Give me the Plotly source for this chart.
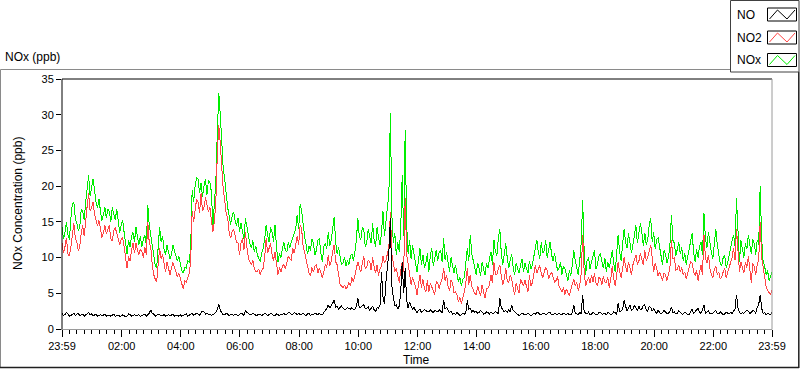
import pandas as pd
import plotly.graph_objects as go

# ---------------- data ----------------
# readings on the 6-minute marks (23:59 -> 23:59, 241 values)
nox_6min = [
    14.3, 13.5, 13.2, 15.5, 17.8, 14.8, 14.2, 16.5, 17.8, 21.5,
    20.0, 19.5, 17.0, 16.5, 16.0, 15.5, 16.5, 17.0, 15.2, 14.8,
    14.5, 13.5, 10.5, 11.5, 13.5, 14.3, 11.8, 11.5, 13.2, 17.4,
    13.0, 10.2, 8.5, 14.3, 13.0, 10.4, 10.8, 10.4, 11.0, 9.5,
    9.0, 7.8, 8.5, 9.3, 19.5, 20.0, 21.0, 20.5, 20.0, 18.8,
    20.5, 14.5, 20.6, 33.0, 26.0, 21.0, 17.0, 14.6, 16.4, 14.5,
    13.6, 13.8, 15.5, 13.0, 11.3, 10.8, 10.4, 9.4, 11.3, 14.6,
    12.2, 13.6, 14.6, 9.4, 10.0, 12.2, 10.8, 11.3, 12.7, 14.0,
    14.0, 16.5, 13.0, 10.5, 11.0, 12.0, 11.0, 12.7, 9.4, 12.0,
    13.6, 12.5, 15.7, 10.5, 9.8, 9.2, 8.8, 9.0, 10.5, 10.8,
    15.5, 12.5, 14.0, 12.0, 13.0, 14.8, 11.5, 12.8, 13.5, 13.0,
    17.0, 30.2, 12.0, 10.3, 10.8, 21.5, 27.9, 10.5, 9.8, 10.5,
    8.0, 11.3, 10.4, 9.2, 8.0, 11.3, 10.0, 9.5, 11.0, 12.7,
    10.8, 8.0, 9.0, 9.0, 6.6, 6.0, 7.2, 11.3, 13.2, 9.5,
    7.6, 8.5, 9.4, 7.6, 8.5, 10.8, 12.5, 10.3, 14.0, 9.0,
    12.0, 8.5, 10.5, 7.6, 8.4, 9.0, 8.0, 8.5, 9.5, 9.0,
    11.3, 10.8, 12.2, 11.0, 10.0, 12.2, 9.5, 9.2, 8.5, 7.6,
    8.5, 6.8, 7.5, 11.0, 8.5, 9.5, 18.0, 7.6, 10.0, 9.4,
    11.0, 9.0, 10.6, 8.5, 8.0, 8.5, 11.0, 8.0, 13.2, 9.5,
    14.0, 11.3, 12.0, 11.8, 14.5, 13.2, 13.6, 13.5, 12.5, 15.5,
    13.5, 12.5, 11.5, 9.0, 10.5, 10.0, 16.0, 12.0, 11.0, 10.5,
    9.5, 9.0, 10.8, 13.4, 9.4, 10.0, 12.2, 16.2, 11.3, 12.0,
    9.8, 14.0, 10.4, 8.8, 10.4, 9.2, 11.0, 13.2, 18.3, 9.4,
    11.0, 12.0, 13.2, 10.5, 12.0, 12.5, 20.0, 9.4, 7.6, 6.8,
    8.0,
]
# readings 3 minutes after each 6-minute mark (240 values)
nox_3min = [
    12.6, 15.0, 12.5, 17.5, 15.5, 13.8, 16.8, 15.2, 19.5, 18.6,
    21.0, 17.8, 18.2, 15.2, 17.0, 16.8, 15.0, 16.0, 16.8, 13.5,
    15.2, 11.8, 12.5, 13.0, 12.2, 12.8, 13.0, 12.5, 11.8, 14.5,
    11.5, 9.0, 11.0, 12.2, 11.2, 11.8, 9.8, 11.8, 10.0, 10.2,
    8.2, 8.6, 9.6, 11.5, 17.8, 21.2, 19.0, 18.5, 21.0, 20.8,
    19.2, 17.5, 27.5, 30.0, 22.5, 18.5, 15.8, 15.8, 15.2, 15.6,
    14.8, 12.6, 14.2, 12.0, 12.4, 11.6, 9.8, 10.6, 12.5, 13.2,
    14.2, 12.2, 11.5, 10.6, 11.2, 11.0, 12.2, 12.2, 13.4, 16.0,
    17.5, 14.2, 11.8, 11.6, 12.6, 10.4, 12.4, 10.6, 11.6, 11.2,
    11.6, 14.0, 12.2, 11.4, 9.0, 10.0, 9.6, 10.2, 9.6, 12.4,
    13.0, 14.2, 11.5, 14.0, 12.0, 12.5, 14.2, 11.8, 16.5, 14.8,
    19.0, 16.0, 13.5, 12.2, 14.0, 13.0, 14.5, 12.5, 11.8, 9.5,
    9.6, 9.0, 8.6, 10.6, 10.2, 8.8, 11.0, 10.8, 9.4, 9.6,
    9.2, 10.0, 7.8, 7.6, 7.2, 7.0, 9.2, 9.5, 10.6, 8.4,
    9.2, 7.4, 8.4, 9.2, 9.8, 9.0, 10.8, 12.8, 10.6, 10.4,
    10.0, 9.6, 8.6, 9.2, 7.8, 9.8, 9.2, 7.8, 8.4, 10.0,
    12.5, 9.8, 10.6, 12.4, 11.0, 10.4, 10.6, 8.2, 9.4, 8.8,
    7.6, 8.2, 9.0, 9.6, 7.6, 12.0, 11.0, 9.6, 8.4, 10.4,
    8.4, 10.2, 9.4, 10.0, 9.4, 9.8, 9.2, 10.6, 10.8, 11.8,
    12.2, 13.4, 10.6, 13.2, 12.0, 14.8, 11.6, 11.8, 14.6, 12.2,
    11.2, 12.8, 10.2, 11.0, 9.2, 11.8, 12.4, 10.2, 12.2, 11.4,
    10.6, 10.2, 12.2, 10.8, 11.2, 11.6, 10.4, 12.8, 13.6, 10.8,
    11.6, 11.8, 9.2, 10.0, 8.6, 10.4, 12.4, 11.6, 12.5, 12.4,
    10.0, 11.2, 11.6, 12.6, 10.4, 11.8, 12.8, 8.8, 8.2, 7.4,
]

no2_6min = [
    12.0, 11.5, 10.5, 11.5, 14.8, 12.2, 11.5, 14.5, 15.8, 19.0,
    17.0, 16.0, 14.5, 14.0, 13.5, 13.3, 14.5, 12.3, 14.2, 12.7,
    12.5, 11.5, 8.5, 9.5, 12.0, 12.0, 10.4, 10.8, 11.5, 15.0,
    11.5, 7.6, 6.6, 11.3, 10.5, 8.0, 8.3, 8.5, 8.7, 7.3,
    7.0, 5.6, 6.5, 7.8, 16.5, 17.0, 17.8, 19.0, 17.0, 17.4,
    17.0, 13.6, 17.8, 28.5, 22.0, 18.0, 15.5, 12.7, 14.0, 12.2,
    10.4, 12.7, 13.6, 9.9, 9.0, 8.5, 8.0, 7.6, 8.5, 12.7,
    11.3, 10.4, 10.8, 7.6, 8.0, 9.0, 9.4, 9.8, 11.3, 11.8,
    11.8, 14.0, 10.8, 8.5, 7.5, 8.0, 9.0, 8.5, 7.1, 9.0,
    10.4, 9.5, 11.8, 9.0, 6.3, 5.8, 5.6, 6.5, 7.2, 7.6,
    9.4, 8.0, 10.2, 8.6, 9.5, 10.0, 7.8, 7.5, 8.8, 9.2,
    10.5, 16.4, 9.2, 8.5, 6.5, 9.4, 18.3, 9.0, 6.2, 6.6,
    4.8, 7.6, 7.0, 5.2, 5.2, 6.0, 4.8, 6.5, 6.5, 8.5,
    7.6, 5.3, 6.5, 5.2, 3.8, 3.5, 5.2, 8.5, 7.6, 5.5,
    4.8, 5.2, 6.2, 4.3, 5.7, 7.6, 9.4, 7.6, 9.0, 6.2,
    8.5, 6.5, 7.0, 4.8, 5.5, 7.0, 6.0, 5.8, 7.5, 6.5,
    9.0, 8.5, 7.8, 8.0, 8.2, 7.6, 7.2, 6.8, 6.0, 5.2,
    4.8, 5.2, 5.5, 7.0, 6.5, 6.0, 13.2, 6.0, 7.2, 7.6,
    7.8, 6.0, 7.0, 7.4, 6.5, 5.8, 8.8, 6.0, 9.4, 7.2,
    10.0, 8.0, 8.5, 9.0, 10.4, 9.5, 9.8, 11.0, 10.0, 11.8,
    8.0, 8.5, 8.0, 6.8, 7.6, 7.6, 12.5, 10.0, 8.4, 8.0,
    7.6, 7.0, 8.5, 9.2, 7.5, 6.8, 9.0, 13.2, 9.2, 8.5,
    7.2, 8.8, 8.0, 7.3, 8.5, 8.0, 9.4, 11.3, 14.0, 8.0,
    8.5, 9.4, 10.2, 6.5, 8.8, 9.0, 15.0, 8.5, 6.0, 5.0,
    5.5,
]
no2_3min = [
    10.6, 12.8, 10.2, 13.6, 12.8, 11.0, 13.5, 13.0, 17.2, 16.5,
    17.8, 15.0, 15.2, 12.8, 14.5, 14.0, 12.6, 13.8, 13.4, 11.8,
    12.8, 9.8, 10.2, 11.0, 10.6, 11.0, 11.2, 10.0, 10.4, 12.0,
    9.0, 7.0, 9.0, 9.8, 9.2, 9.4, 7.6, 9.3, 7.8, 7.8,
    6.0, 6.8, 7.2, 9.5, 15.0, 18.2, 16.2, 16.6, 18.4, 16.4,
    15.5, 15.0, 24.5, 26.0, 19.5, 16.2, 13.6, 13.6, 12.8, 12.0,
    12.0, 11.0, 11.5, 9.4, 9.6, 8.0, 8.4, 8.2, 10.0, 10.6,
    12.0, 9.6, 9.0, 8.6, 8.8, 8.4, 10.2, 9.6, 10.6, 13.0,
    14.6, 11.6, 9.6, 7.8, 8.6, 8.8, 7.8, 8.0, 8.2, 8.6,
    8.8, 10.8, 9.4, 7.6, 6.0, 6.2, 5.9, 6.0, 6.6, 8.8,
    8.6, 9.2, 8.4, 9.6, 8.2, 8.8, 9.0, 8.4, 10.2, 9.6,
    11.5, 10.5, 8.0, 7.5, 8.2, 8.0, 10.5, 7.4, 7.2, 6.0,
    6.2, 5.8, 5.6, 6.8, 6.4, 5.4, 6.6, 5.6, 7.0, 6.8,
    6.0, 6.8, 5.0, 4.8, 4.4, 4.2, 6.4, 6.2, 6.0, 5.0,
    6.0, 4.6, 5.2, 5.6, 6.2, 6.4, 7.6, 8.4, 7.4, 7.0,
    6.8, 7.6, 5.8, 6.4, 5.0, 6.6, 6.8, 5.2, 6.0, 7.8,
    7.8, 8.9, 7.2, 8.6, 7.0, 8.0, 6.6, 7.4, 5.6, 5.8,
    5.6, 4.6, 6.2, 6.0, 5.4, 7.8, 8.0, 6.8, 6.4, 6.6,
    6.4, 7.2, 6.2, 6.6, 7.2, 7.0, 7.0, 7.6, 8.0, 8.4,
    8.8, 9.4, 7.6, 9.8, 9.0, 10.6, 9.0, 9.6, 10.8, 10.0,
    9.2, 7.4, 7.4, 7.8, 6.8, 8.6, 9.8, 8.2, 9.0, 8.6,
    8.0, 7.8, 9.4, 8.0, 8.2, 7.8, 7.6, 10.0, 10.4, 7.6,
    8.4, 7.6, 7.0, 8.0, 7.2, 8.6, 10.0, 9.6, 10.0, 9.4,
    7.8, 8.6, 8.4, 9.2, 7.6, 9.6, 10.0, 6.8, 5.4, 4.8,
]

no_6min = [
    2.2, 2.0, 2.1, 1.9, 2.2, 2.0, 1.9, 2.1, 2.0, 2.3,
    2.1, 1.9, 1.8, 2.0, 1.9, 1.8, 1.9, 2.0, 1.8, 1.9,
    1.8, 1.9, 1.8, 2.0, 1.9, 1.8, 2.0, 1.9, 2.1, 2.0,
    2.7, 2.1, 1.9, 2.0, 1.9, 1.8, 2.0, 1.9, 1.8, 1.9,
    2.0, 1.9, 2.1, 1.9, 2.2, 2.0, 2.1, 2.3, 2.4, 2.2,
    2.1, 2.0, 2.3, 3.5, 2.2, 2.0, 2.1, 2.0, 1.9, 2.0,
    2.0, 2.1, 2.6, 2.2, 2.0, 2.1, 1.9, 2.0, 2.0, 2.1,
    2.0, 2.1, 1.9, 2.0, 2.1, 2.2, 2.1, 2.3, 2.1, 2.2,
    2.2, 2.1, 2.0, 2.1, 1.9, 2.0, 2.1, 2.2, 2.0, 2.6,
    3.4, 3.3, 4.1, 3.2, 3.0, 2.9, 2.8, 2.9, 3.0, 2.8,
    4.3, 3.0, 3.4, 2.9, 2.6, 3.2, 2.4, 2.9, 8.0, 3.5,
    8.5, 15.5, 4.5, 3.4, 3.2, 9.4, 8.5, 2.9, 3.2, 3.0,
    2.2, 2.8, 2.5, 2.6, 2.4, 2.5, 2.6, 2.4, 2.5, 4.1,
    3.0, 2.3, 2.1, 2.0, 2.1, 2.0, 2.1, 4.0, 2.9, 2.6,
    2.5, 2.3, 2.4, 2.2, 2.3, 2.4, 2.2, 2.3, 4.3, 2.7,
    2.6, 2.7, 3.4, 2.4, 2.1, 2.0, 2.1, 2.0, 2.0, 2.0,
    2.1, 2.3, 2.0, 2.2, 2.1, 2.3, 2.0, 2.1, 2.2, 2.0,
    2.1, 2.2, 2.0, 3.4, 2.1, 2.3, 4.8, 2.2, 2.4, 2.1,
    2.2, 2.0, 2.3, 2.1, 2.0, 2.2, 2.1, 2.3, 3.6, 2.5,
    4.0, 2.5, 3.4, 2.8, 3.0, 3.2, 2.8, 3.4, 2.5, 3.0,
    2.8, 2.2, 2.4, 2.3, 2.4, 2.2, 3.1, 2.4, 2.2, 2.3,
    2.1, 2.2, 2.0, 2.8, 2.4, 2.9, 2.2, 3.4, 2.3, 2.2,
    2.2, 2.6, 2.1, 2.2, 2.1, 2.2, 2.3, 2.5, 4.8, 2.3,
    2.3, 2.4, 2.5, 2.3, 2.5, 3.0, 4.8, 2.2, 2.0, 2.1,
    2.3,
]
no_3min = [
    1.9, 2.3, 1.8, 2.1, 1.9, 2.2, 2.0, 1.8, 2.2, 2.0,
    1.8, 2.1, 1.9, 1.8, 2.1, 1.9, 1.8, 2.1, 1.9, 1.8,
    2.0, 1.7, 2.1, 1.8, 2.0, 1.9, 1.8, 2.0, 1.8, 2.2,
    2.2, 1.8, 2.1, 1.8, 2.0, 1.9, 1.8, 2.1, 1.9, 1.8,
    1.8, 2.0, 1.8, 2.0, 1.9, 2.2, 1.9, 2.5, 2.1, 2.0,
    1.9, 2.2, 2.8, 2.6, 2.0, 2.2, 1.9, 2.1, 2.1, 1.9,
    2.2, 1.9, 2.3, 2.0, 2.2, 1.9, 2.1, 1.9, 2.2, 1.9,
    2.2, 1.9, 2.1, 1.9, 2.0, 2.0, 2.3, 2.0, 2.3, 2.0,
    2.0, 2.2, 1.9, 2.2, 2.1, 2.2, 2.0, 2.0, 2.3, 2.9,
    2.9, 3.6, 3.0, 2.8, 3.2, 2.7, 3.0, 2.8, 2.7, 3.2,
    3.0, 3.3, 2.8, 3.1, 2.9, 2.7, 3.0, 3.4, 4.5, 6.6,
    10.8, 6.0, 3.2, 2.8, 5.2, 5.0, 4.0, 3.8, 2.7, 2.6,
    2.6, 2.3, 2.7, 2.4, 2.7, 2.3, 2.5, 2.7, 2.3, 2.8,
    2.6, 2.5, 2.2, 2.3, 1.9, 2.2, 2.3, 2.8, 2.4, 2.3,
    2.2, 2.6, 2.1, 2.4, 2.1, 2.2, 2.5, 2.1, 3.0, 2.4,
    2.3, 2.4, 2.6, 2.2, 1.9, 2.2, 2.0, 2.2, 1.9, 2.2,
    2.3, 2.0, 2.2, 2.0, 2.3, 2.0, 2.2, 2.0, 2.0, 2.2,
    2.0, 2.0, 2.3, 2.2, 2.0, 2.2, 2.4, 2.1, 2.0, 2.3,
    2.0, 2.3, 2.1, 2.2, 2.3, 2.0, 2.4, 2.0, 2.4, 2.7,
    3.0, 2.9, 2.6, 3.3, 2.6, 2.7, 3.3, 2.6, 3.2, 2.5,
    2.4, 2.6, 2.1, 2.6, 2.2, 2.5, 2.3, 2.1, 2.6, 2.1,
    2.3, 2.0, 2.4, 2.2, 2.7, 2.3, 2.6, 2.2, 2.5, 2.1,
    2.4, 2.2, 2.4, 2.0, 2.4, 2.1, 2.2, 2.8, 2.9, 2.1,
    2.2, 2.6, 2.2, 2.6, 2.2, 3.4, 2.9, 2.3, 2.2, 2.0,
]

series_names = ["NO", "NO2", "NOx"]
major_tick_text = ["23:59", "02:00", "04:00", "06:00", "08:00", "10:00", "12:00",
                   "14:00", "16:00", "18:00", "20:00", "22:00", "23:59"]
y_tick_vals = [0, 5, 10, 15, 20, 25, 30, 35]


def merge(on_mark, offset):
    """Put the two reading lists in time order (3-minute spacing)."""
    out = []
    for a, b in zip(on_mark[:-1], offset):
        out.extend([a, b])
    out.append(on_mark[-1])
    return out


nox = merge(nox_6min, nox_3min)
no2 = merge(no2_6min, no2_3min)
no = merge(no_6min, no_3min)

# ---------------- axis positions ----------------
start = pd.Timestamp("2024-01-01 23:59")
end = pd.Timestamp("2024-01-02 23:59")
times = pd.date_range(start, periods=len(nox), freq="3min")

major_vals = [start] + [pd.Timestamp(f"2024-01-02 {t}") for t in major_tick_text[1:-1]] + [end]
minor_vals = []
for a, b in zip(major_vals[:-1], major_vals[1:]):
    step = (b - a) / 8
    for k in range(1, 8):
        minor_vals.append(a + step * k)

FONT = "Liberation Sans, Arial, sans-serif"
GREEN = "#00ee00"
RED = "#ff4646"

fig = go.Figure()
fig.add_trace(go.Scatter(x=times, y=nox, mode="lines", name="NOx",
                         line=dict(color=GREEN, width=1)))
fig.add_trace(go.Scatter(x=times, y=no2, mode="lines", name="NO2",
                         line=dict(color=RED, width=1)))
fig.add_trace(go.Scatter(x=times, y=no, mode="lines", name="NO",
                         line=dict(color="#000000", width=1)))

# ---------------- layout geometry (pixels) ----------------
W, H = 800, 369
L, R, T, B = 62, 772, 79, 329


def px(xp):
    return (xp - L) / (R - L)


def py(yp):
    return (B - yp) / (B - T)


shapes = []


def line(x0, y0, x1, y1, color, width=1):
    shapes.append(dict(type="line", xref="paper", yref="paper",
                       x0=px(x0), y0=py(y0), x1=px(x1), y1=py(y1),
                       line=dict(color=color, width=width), layer="above"))


# outer panel border
line(0.5, 69.5, 730, 69.5, "#8a8a8a")
line(0.5, 69.5, 0.5, 368, "#8a8a8a")
line(0, 367.5, 799, 367.5, "#202020", 1.5)
line(798.8, 72, 798.8, 368, "#202020", 1.5)

# plot frame
line(L, T, R, T, "#000000")
line(L, T, L, B + 1, "#000000")
line(L, B + 0.5, R, B + 0.5, "#9a9a9a")
line(R, T, R, B + 0.5, "#9a9a9a")

# legend box
shapes.append(dict(type="rect", xref="paper", yref="paper",
                   x0=px(730.5), y0=py(0.5), x1=px(799), y1=py(72),
                   line=dict(color="#404040", width=1), fillcolor="white", layer="above"))

legend_rows = [("NO", 14.5, "#000000"), ("NO2", 37.5, RED), ("NOx", 60.0, GREEN)]
annotations = []
for name, cy, col in legend_rows:
    shapes.append(dict(type="rect", xref="paper", yref="paper",
                       x0=px(767.5), y0=py(cy - 6.5), x1=px(796.5), y1=py(cy + 6.5),
                       line=dict(color="#000000", width=1), fillcolor="white", layer="above"))
    pts = [(769.5, cy + 4.5), (777.5, cy - 4.5), (787, cy + 4.5), (795, cy - 4.5)]
    path = "M " + " L ".join(f"{px(a)},{py(b)}" for a, b in pts)
    shapes.append(dict(type="path", xref="paper", yref="paper", path=path,
                       line=dict(color=col, width=1), layer="above"))
    annotations.append(dict(text=name, xref="paper", yref="paper",
                            x=px(735), y=py(cy), xanchor="left", yanchor="middle",
                            showarrow=False, font=dict(family=FONT, size=12, color="#000000")))

annotations.append(dict(text="Time", xref="paper", yref="paper",
                        x=px(416), y=py(360), xanchor="center", yanchor="middle",
                        showarrow=False, font=dict(family=FONT, size=12, color="#000000")))
annotations.append(dict(text="NOx Concentration (ppb)", xref="paper", yref="paper",
                        x=px(18), y=py(204), xanchor="center", yanchor="middle", textangle=-90,
                        showarrow=False, font=dict(family=FONT, size=12, color="#000000")))

fig.update_layout(
    width=W, height=H,
    margin=dict(l=L, r=W - R, t=T, b=H - B),
    paper_bgcolor="white", plot_bgcolor="white",
    showlegend=False,
    title=dict(text="NOx (ppb)", x=5 / W, xanchor="left", xref="container",
               y=1 - 57 / H, yanchor="middle", yref="container",
               font=dict(family=FONT, size=12, color="#000000")),
    font=dict(family=FONT, size=11, color="#000000"),
    shapes=shapes,
    annotations=annotations,
    xaxis=dict(
        type="date", range=[start, end],
        tickmode="array", tickvals=major_vals, ticktext=major_tick_text,
        ticks="outside", ticklen=7, tickcolor="#000000", tickwidth=1,
        minor=dict(tickmode="array", tickvals=minor_vals, ticks="outside",
                   ticklen=4, tickcolor="#000000", tickwidth=1, showgrid=False),
        showgrid=False, zeroline=False, showline=False,
        tickfont=dict(family=FONT, size=11, color="#000000"),
    ),
    yaxis=dict(
        range=[0, 35], tickmode="array", tickvals=y_tick_vals,
        ticks="outside", ticklen=5, tickcolor="#000000", tickwidth=1,
        showgrid=False, zeroline=False, showline=False,
        tickfont=dict(family=FONT, size=11, color="#000000"),
    ),
)

fig.write_html(
    "out.html",
    config={"displayModeBar": False},
    post_script="document.body.style.margin='0';document.body.style.padding='0';"
                "document.body.style.overflow='hidden';"
                "document.querySelectorAll('.scatterlayer path.js-line').forEach("
                "function(p){p.style.shapeRendering='crispEdges';});",
)
